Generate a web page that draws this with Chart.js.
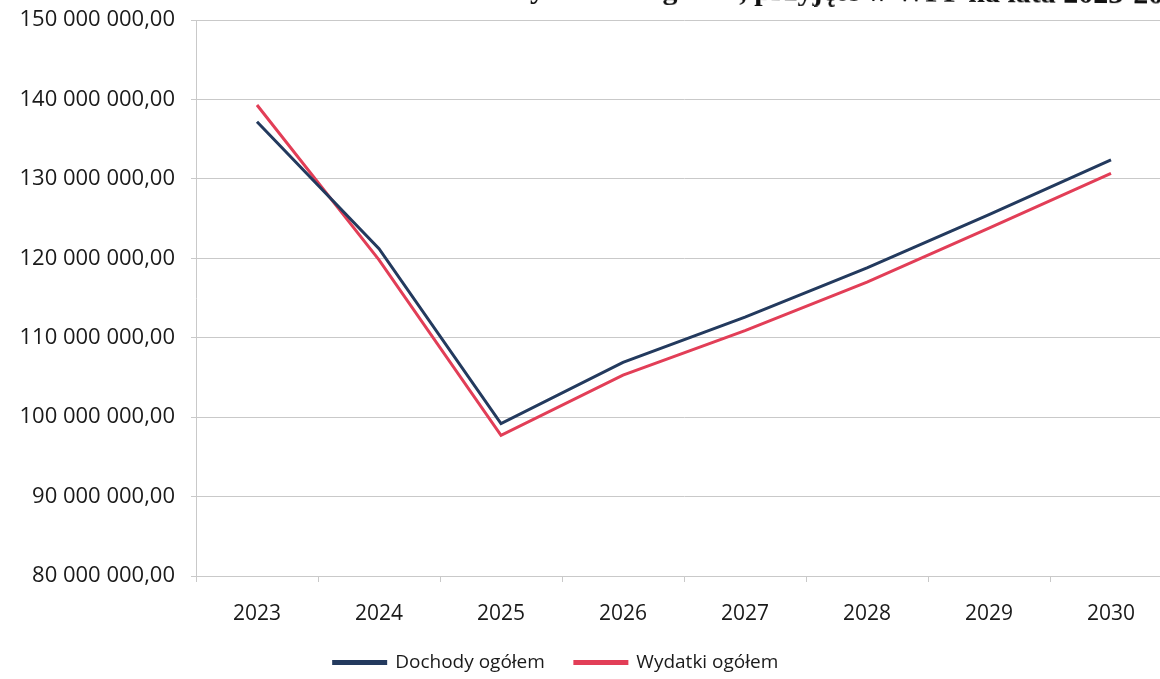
<!DOCTYPE html>
<html lang="pl">
<head>
<meta charset="utf-8">
<title>Dochody i wydatki ogółem 2023-2030</title>
<script src="https://cdn.jsdelivr.net/npm/chart.js@4/dist/chart.umd.min.js"></script>
<style>
  html, body { margin: 0; padding: 0; background: #fff; overflow: hidden; }
  #wrap { position: relative; width: 1160px; height: 679px; overflow: hidden; }
  #heading {
    position: absolute; left: 60px; top: -22px; margin: 0;
    font: bold 30px "Liberation Serif", "DejaVu Serif", serif;
    line-height: 30px; white-space: nowrap; color: #111;
    transform-origin: 1040px 25px;
    transform: rotate(0.5deg);
  }
  #chart { position: absolute; left: 0; top: 0; }
</style>
</head>
<body>
<div id="wrap">
  <canvas id="chart" width="1172" height="679"></canvas>
  <div id="heading">Wykres 1. Zestawienie dochodów i wydatków ogółem, przyjęte w WPF na lata 2023-2030</div>
</div>
<script>
// Years of the multi-year financial forecast
const years = ['2023', '2024', '2025', '2026', '2027', '2028', '2029', '2030'];

// Total revenue and total expenditure, PLN
const dochodyOgolem = [137200000, 121200000, 99200000, 106900000, 112600000, 118800000, 125500000, 132400000];
const wydatkiOgolem = [139300000, 119800000, 97700000, 105300000, 110900000, 117000000, 123800000, 130700000];

// Value axis range and step
const yMin = 80000000;
const yMax = 150000000;
const yStep = 10000000;

const seriesNames = ['Dochody ogółem', 'Wydatki ogółem'];
const seriesColors = ['#233a5e', '#e23e57'];

// "150 000 000,00" style: grouped thousands, comma decimals
function formatPln(v) {
  const [intPart, frac] = Number(v).toFixed(2).split('.');
  return intPart.replace(/\B(?=(\d{3})+(?!\d))/g, '\u00a0') + ',' + frac;
}

// Keeps the legend row centred under the plotted years and
// lets its box reach the bottom edge so the row is not clipped
const legendShift = {
  id: 'legendShift',
  afterLayout(chart) {
    const lg = chart.legend;
    if (!lg) return;
    const w = lg.right - lg.left;
    const centre = 556;
    lg.left = centre - w / 2;
    lg.right = centre + w / 2;
    lg.bottom = chart.height;
    lg.height = lg.bottom - lg.top;
  }
};

const gridGrey = '#c9c9c9';

new Chart(document.getElementById('chart'), {
  type: 'line',
  data: {
    labels: years,
    datasets: [
      {
        label: seriesNames[0],
        data: dochodyOgolem,
        borderColor: seriesColors[0],
        backgroundColor: seriesColors[0],
        borderWidth: 3,
        pointRadius: 0,
        tension: 0,
        fill: false
      },
      {
        label: seriesNames[1],
        data: wydatkiOgolem,
        borderColor: seriesColors[1],
        backgroundColor: seriesColors[1],
        borderWidth: 3,
        pointRadius: 0,
        tension: 0,
        fill: false
      }
    ]
  },
  options: {
    responsive: false,
    animation: false,
    devicePixelRatio: 1,
    layout: { padding: { top: 20, bottom: 26, left: 0, right: 0 } },
    plugins: {
      title: { display: false },
      tooltip: { enabled: false },
      legend: {
        position: 'bottom',
        maxHeight: 30,
        labels: {
          boxWidth: 52,
          boxHeight: 2,
          padding: 30,
          color: '#1a1a1a',
          font: { family: '"Open Sans", sans-serif', size: 19 }
        }
      }
    },
    scales: {
      x: {
        offset: true,
        afterFit(scale) { scale.height = 47; },
        grid: {
          offset: true,
          drawOnChartArea: false,
          drawTicks: true,
          tickLength: 6,
          color: gridGrey
        },
        border: { display: true, color: gridGrey },
        ticks: {
          padding: 19,
          color: '#1a1a1a',
          font: { family: '"Open Sans", sans-serif', size: 21 }
        }
      },
      y: {
        min: yMin,
        max: yMax,
        afterFit(scale) {
          scale.width = 196;
          scale.paddingTop = 0;
          scale.paddingBottom = 0;
        },
        grid: {
          color: gridGrey,
          lineWidth: 1,
          drawTicks: true,
          tickLength: 5
        },
        border: { display: true, color: gridGrey },
        ticks: {
          stepSize: yStep,
          padding: 16,
          color: '#1a1a1a',
          font: { family: '"Open Sans", sans-serif', size: 22 },
          callback: (v) => formatPln(v)
        }
      }
    }
  },
  plugins: [legendShift]
});
</script>
</body>
</html>
